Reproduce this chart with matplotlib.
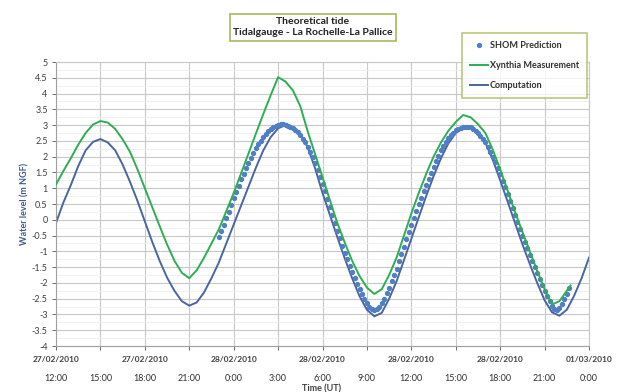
import numpy as np
import matplotlib
matplotlib.use('Agg')
import matplotlib.pyplot as plt
from matplotlib.ticker import MultipleLocator, FuncFormatter

plt.rcParams['font.family'] = ['Lato', 'DejaVu Sans']

# hours counted from 27/02/2010 12:00 (UT)
tick_hours = [0, 3, 6, 9, 12, 15, 18, 21, 24, 27, 30, 33, 36]
time_labels = ['12:00', '15:00', '18:00', '21:00', '0:00', '3:00', '6:00',
               '9:00', '12:00', '15:00', '18:00', '21:00', '0:00']
date_hours = [0, 6, 12, 18, 24, 30, 36]
date_labels = ['27/02/2010', '27/02/2010', '28/02/2010', '28/02/2010',
               '28/02/2010', '28/02/2010', '01/03/2010']

# Xynthia measurement, every 30 min from 12:00, last point at 34.75 h
xyn_v = [1.12, 1.55, 1.95, 2.38, 2.75, 3.02, 3.13, 3.08, 2.88, 2.55,
         2.15, 1.60, 1.00, 0.40, -0.20, -0.78, -1.30, -1.68, -1.85, -1.60,
         -1.20, -0.75, -0.30, 0.27, 0.85, 1.47, 2.10, 2.73, 3.35, 3.95,
         4.52, 4.38, 4.10, 3.60, 2.80, 2.08, 1.35, 0.62, -0.10, -0.72,
         -1.30, -1.78, -2.15, -2.35, -2.20, -1.75, -1.20, -0.50, 0.20, 0.85,
         1.45, 2.00, 2.45, 2.82, 3.10, 3.32, 3.25, 3.03, 2.75, 2.22,
         1.60, 0.93, 0.25, -0.38, -1.00, -1.62, -2.20, -2.68, -2.58, -2.25,
         -2.08]
xyn_t = np.append(np.arange(70) * 0.5, 34.75)

# Computation, every 30 min from 12:00 to 01/03 0:00
comp_v = [-0.10, 0.55, 1.10, 1.70, 2.20, 2.47, 2.56, 2.45, 2.20, 1.75,
          1.20, 0.60, -0.05, -0.70, -1.30, -1.83, -2.25, -2.58, -2.72, -2.62,
          -2.30, -1.85, -1.35, -0.75, -0.15, 0.45, 1.05, 1.65, 2.20, 2.62,
          2.90, 3.00, 2.90, 2.70, 2.30, 1.63, 0.85, 0.15, -0.55, -1.22,
          -1.85, -2.42, -2.85, -3.06, -2.95, -2.50, -1.95, -1.28, -0.60, 0.08,
          0.75, 1.38, 1.95, 2.42, 2.75, 2.92, 2.93, 2.73, 2.45, 1.90,
          1.25, 0.58, -0.10, -0.77, -1.40, -2.00, -2.55, -2.93, -3.04, -2.85,
          -2.40, -1.85, -1.20]
comp_t = np.arange(len(comp_v)) * 0.5

# SHOM prediction, one value every 10 minutes from 27/02 23:00
shom_start = 11.0
shom_v = [
    -0.55, -0.35, -0.15, 0.05, 0.26, 0.47,
    0.68, 0.88, 1.08, 1.28, 1.46, 1.63,
    1.80, 1.96, 2.12, 2.27, 2.39, 2.51,
    2.62, 2.71, 2.80, 2.87, 2.93, 2.97,
    2.99, 3.02, 3.03, 3.01, 2.98, 2.95,
    2.90, 2.84, 2.77, 2.68, 2.57, 2.45,
    2.30, 2.14, 1.98, 1.80, 1.59, 1.37,
    1.15, 0.90, 0.65, 0.40, 0.15, -0.10,
    -0.35, -0.59, -0.82, -1.05, -1.25, -1.45,
    -1.65, -1.84, -2.02, -2.20, -2.36, -2.51,
    -2.65, -2.76, -2.84, -2.86, -2.82, -2.75,
    -2.65, -2.50, -2.33, -2.15, -1.95, -1.75,
    -1.55, -1.32, -1.09, -0.85, -0.62, -0.38,
    -0.15, 0.07, 0.29, 0.50, 0.70, 0.90,
    1.10, 1.30, 1.49, 1.68, 1.86, 2.03,
    2.20, 2.34, 2.47, 2.58, 2.68, 2.76,
    2.83, 2.88, 2.92, 2.94, 2.95, 2.95,
    2.93, 2.88, 2.82, 2.75, 2.66, 2.56,
    2.45, 2.31, 2.16, 2.00, 1.83, 1.65,
    1.45, 1.24, 1.03, 0.82, 0.60, 0.38,
    0.15, -0.07, -0.29, -0.50, -0.70, -0.90,
    -1.10, -1.30, -1.50, -1.70, -1.89, -2.07,
    -2.25, -2.42, -2.58, -2.72, -2.83, -2.87,
    -2.80, -2.67, -2.52, -2.35, -2.15,
]
shom_t = shom_start + np.arange(len(shom_v)) / 6.0

green = '#2EAE52'
blue_line = '#4A65A0'
blue_dot = '#4F7FC4'
frame = '#A9B95E'

fig = plt.figure(figsize=(6.21, 3.92), dpi=100)
ax = fig.add_axes([0.0902, 0.1173, 0.8583, 0.7245])

ax.plot(shom_t, shom_v, linestyle='none', marker='o', markersize=2.8,
        color=blue_dot, label='SHOM Prediction', zorder=3)
ax.plot(xyn_t, xyn_v, color=green, lw=1.4, label='Xynthia Measurement', zorder=4)
ax.plot(comp_t, comp_v, color=blue_line, lw=1.4, label='Computation', zorder=2)

ax.set_xlim(0, 36)
ax.set_ylim(-4, 5)
ax.yaxis.set_major_locator(MultipleLocator(0.5))
ax.yaxis.set_minor_locator(MultipleLocator(0.25))
ax.yaxis.set_major_formatter(FuncFormatter(lambda v, p: f'{v:g}'))
ax.set_xticks(tick_hours)
ax.set_xticklabels(time_labels)
ax.grid(True, which='major', color='#C8C8C8', lw=0.8)
ax.grid(True, which='minor', axis='y', color='#EFEFEF', lw=0.6)
ax.set_axisbelow(True)

for s in ax.spines.values():
    s.set_color('#C8C8C8')
    s.set_linewidth(0.8)
ax.spines['left'].set_color('#A0A0A0')
ax.spines['bottom'].set_color('#A0A0A0')

ax.tick_params(axis='y', which='major', labelsize=6.5, colors='#555555',
               length=3, width=0.6, pad=3, labelcolor='#404040')
ax.tick_params(axis='y', which='minor', length=0)
ax.tick_params(axis='x', labelsize=6.5, length=3, width=0.6, colors='#555555',
               labelcolor='#303030', pad=17)

for h, d in zip(date_hours, date_labels):
    ax.annotate(d, (h, 0), xycoords=('data', 'axes fraction'),
                xytext=(0, -9.5), textcoords='offset points', ha='center',
                va='center', fontsize=6, fontweight='bold', color='#404040')

ax.set_ylabel('Water level (m NGF)', fontsize=6.5, color='#3B5A96',
              fontweight='bold', labelpad=2)
fig.text(322 / 621, 1 - 384 / 392, 'Time (UT)', ha='center', va='top',
         fontsize=6.5, fontweight='bold', color='#404040')

fig.text(0.504, 0.930, 'Theoretical tide\nTidalgauge - La Rochelle-La Pallice',
         ha='center', va='center', fontsize=7.5, fontweight='bold',
         color='#202020', linespacing=1.3,
         bbox=dict(boxstyle='square,pad=0.35', fc='white', ec=frame, lw=1.2))

leg = ax.legend(loc='upper left', bbox_to_anchor=(0.744, 0.916),
                bbox_transform=fig.transFigure, fontsize=6.5, frameon=True,
                fancybox=False, borderpad=0.9, labelspacing=1.2,
                handlelength=2.0, handletextpad=0.15, borderaxespad=0)
leg.get_frame().set_edgecolor(frame)
leg.get_frame().set_linewidth(1.2)
for t in leg.get_texts():
    t.set_fontweight('bold')
    t.set_color('#303030')

fig.savefig('out.png', dpi=100)
